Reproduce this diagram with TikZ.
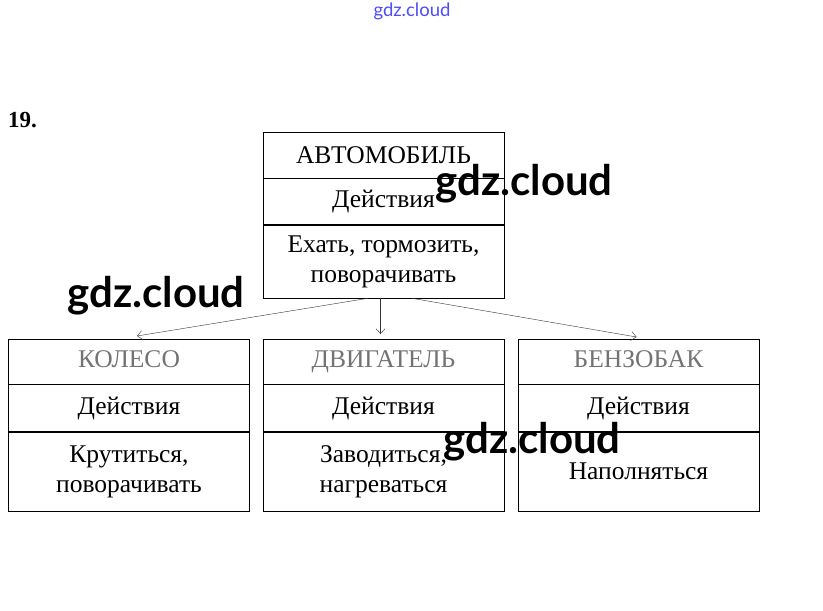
\documentclass[tikz,border=0pt]{standalone}
\usepackage{fontspec}
\setmainfont{Liberation Serif}
\newfontfamily\wmfont{Lato}
\usepackage{tikz}
\usetikzlibrary{arrows.meta, positioning, calc}

\begin{document}
\begin{tikzpicture}[
  x=1pt, y=-1pt,
  cell/.style={rectangle, draw, thin, minimum width=241pt, inner sep=0pt, align=center,
    font=\fontsize{25.5}{30}\selectfont},
  head/.style={cell, minimum height=45pt, text height=17pt, text depth=5pt, text=black!55},
  link/.style={draw=black!80, thin, -{Straight Barb[length=5pt, width=9pt]}},
  wm/.style={font=\wmfont\bfseries\fontsize{42}{46}\selectfont}
]
\useasboundingbox (0,0) rectangle (823,611);

% top class
\node[cell, minimum height=46pt, anchor=north] (car) at (383.5,132) {АВТОМОБИЛЬ};
\node[cell, minimum height=46pt, below=0pt of car] (carA) {Действия};
\node[cell, minimum height=73pt, below=0pt of carA] (carB) {Ехать, тормозить,\\поворачивать};

% bottom classes
\node[head, anchor=north] (wheel) at (129,339) {КОЛЕСО};
\node[cell, minimum height=47pt, below=0pt of wheel] (wheelA) {Действия};
\node[cell, minimum height=79pt, below=0pt of wheelA] (wheelB) {Крутиться,\\поворачивать};

\node[head, anchor=north] (motor) at (383.5,339) {ДВИГАТЕЛЬ};
\node[cell, minimum height=47pt, below=0pt of motor] (motorA) {Действия};
\node[cell, minimum height=79pt, below=0pt of motorA] (motorB) {Заводиться,\\нагреваться};

\node[head, anchor=north] (tank) at (638.5,339) {БЕНЗОБАК};
\node[cell, minimum height=47pt, below=0pt of tank] (tankA) {Действия};
\node[cell, minimum height=79pt, below=0pt of tankA] (tankB) {Наполняться};

% links
\coordinate (s1) at ($(carB.south)+(-15,0)$);
\coordinate (s2) at ($(carB.south)+(-3,0)$);
\coordinate (s3) at ($(carB.south)+(28,0)$);
\coordinate (t1) at ($(wheel.north)+(8,-3)$);
\coordinate (t3) at ($(tank.north)+(-2,-2)$);
\draw[link] (s1) -- (t1);
\draw[link] (s2) -- ($(motor.north)+(-3,-5)$);
\draw[link] (s3) -- (t3);

% labels
\node[font=\bfseries\fontsize{23}{25}\selectfont, anchor=west, inner sep=0pt] (num) at (8,120) {19.};
\node[font=\wmfont\fontsize{18.5}{20}\selectfont, text=blue!70] (wm0) at (412,11) {gdz.cloud};
\node[wm] (wm1) at (524,184) {gdz.cloud};
\node[wm] (wm2) at (156,296) {gdz.cloud};
\node[wm] (wm3) at (532,442) {gdz.cloud};
\end{tikzpicture}
\end{document}
